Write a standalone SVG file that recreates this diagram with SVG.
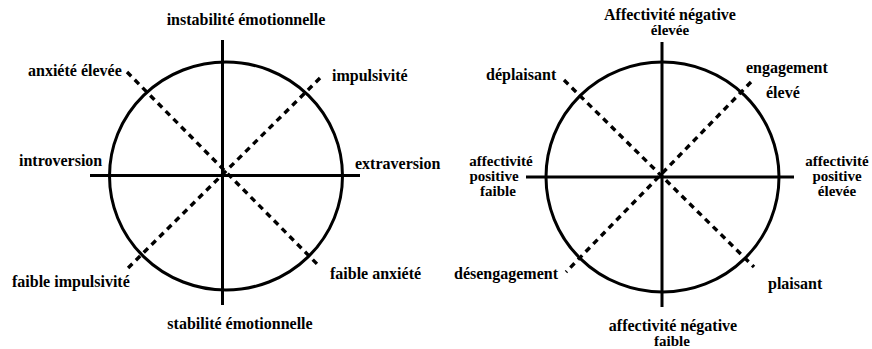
<svg xmlns="http://www.w3.org/2000/svg" width="872" height="349" viewBox="0 0 872 349">
<style>
.c{fill:none;stroke:#000;stroke-width:3}
.a{stroke:#000;stroke-width:3}
.d{stroke:#000;stroke-width:3.4;stroke-dasharray:6 5}
.t{font-family:"Liberation Serif","Times New Roman",serif;font-size:16px;font-weight:bold;fill:#000}
.s{font-size:15px}
.m{text-anchor:middle}
</style>
<rect width="872" height="349" fill="#fff"/>
<g id="connectors">
<ellipse class="c" cx="226" cy="176" rx="116.5" ry="114"/>
<line class="a" x1="222.5" y1="40" x2="222.5" y2="305"/>
<line class="a" x1="90" y1="175.5" x2="360" y2="175.5"/>
<line class="d" x1="127" y1="72" x2="320" y2="267"/>
<line class="d" x1="320" y1="78" x2="128" y2="268"/>
<ellipse class="c" cx="662.5" cy="177" rx="116.5" ry="115"/>
<line class="a" x1="662" y1="42" x2="662" y2="307"/>
<line class="a" x1="526" y1="177" x2="794" y2="177"/>
<line class="d" x1="564" y1="80" x2="754" y2="267"/>
<line class="d" x1="751" y1="82" x2="566" y2="272"/>
</g>
<g class="t" font-family="Liberation Serif, serif" font-size="16" font-weight="bold">
<g id="n-instabilite"><text x="246" y="25" class="m">instabilité émotionnelle</text></g>
<g id="n-anxiete-elevee"><text x="28" y="76">anxiété élevée</text></g>
<g id="n-impulsivite"><text x="332" y="81">impulsivité</text></g>
<g id="n-introversion"><text x="19" y="166">introversion</text></g>
<g id="n-extraversion"><text x="355" y="169">extraversion</text></g>
<g id="n-faible-impulsivite"><text x="12" y="287">faible impulsivité</text></g>
<g id="n-faible-anxiete"><text x="330" y="279">faible anxiété</text></g>
<g id="n-stabilite"><text x="240" y="329" class="m">stabilité émotionnelle</text></g>
<g id="n-an-elevee"><text x="670" y="20" class="m">Affectivité négative</text><text x="670" y="35" class="m s">élevée</text></g>
<g id="n-deplaisant"><text x="486" y="80">déplaisant</text></g>
<g id="n-engagement"><text x="746" y="73">engagement</text><text x="766" y="98">élevé</text></g>
<g id="n-ap-faible" class="s"><text x="501" y="166" class="m">affectivité</text><text x="494" y="181" class="m">positive</text><text x="498" y="196" class="m">faible</text></g>
<g id="n-ap-elevee" class="s"><text x="837" y="166" class="m">affectivité</text><text x="837" y="181" class="m">positive</text><text x="837" y="196" class="m">élevée</text></g>
<g id="n-desengagement"><text x="454" y="279">désengagement</text></g>
<g id="n-plaisant"><text x="768" y="289">plaisant</text></g>
<g id="n-an-faible"><text x="673" y="331" class="m">affectivité négative</text><text x="672" y="346" class="m s">faible</text></g>
</g>
</svg>
